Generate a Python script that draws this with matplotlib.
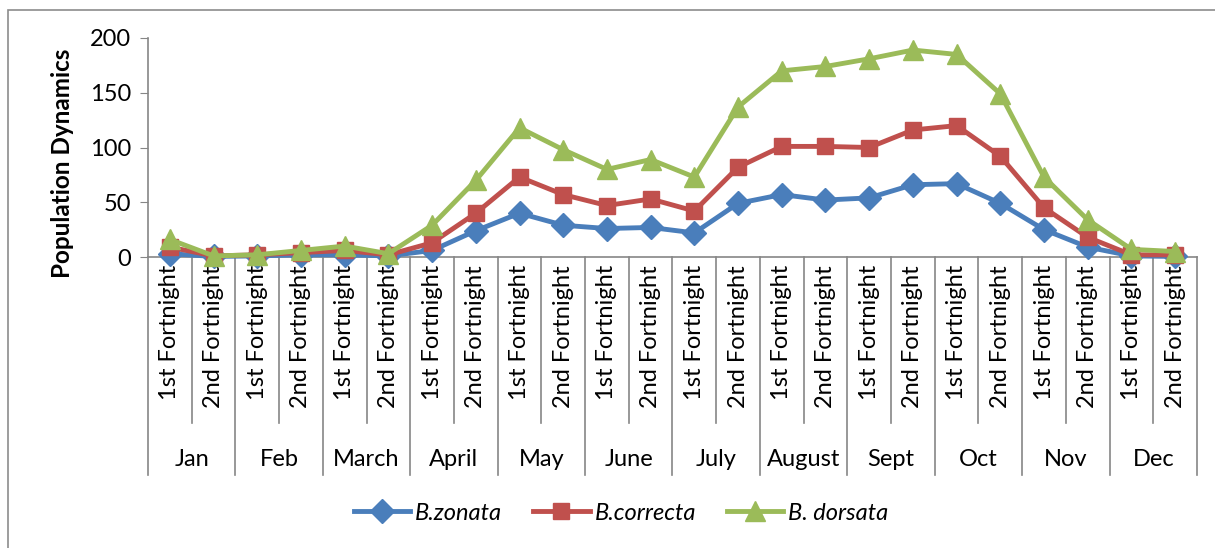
# Population dynamics of Bactrocera species by fortnight
import matplotlib
matplotlib.use('Agg')
import matplotlib.pyplot as plt
import matplotlib.transforms as mtransforms
from matplotlib.patches import Rectangle
from matplotlib.lines import Line2D

plt.rcParams['font.family'] = ['Lato', 'DejaVu Sans']

months = ['Jan', 'Feb', 'March', 'April', 'May', 'June', 'July',
          'August', 'Sept', 'Oct', 'Nov', 'Dec']
fortnights = ['1st Fortnight', '2nd Fortnight']

zonata = [3, 0.5, 1, 2, 2, 1, 6, 24, 40, 29, 26, 27,
          22, 49, 57, 52, 54, 66, 67, 49, 25, 9, 1, 0.5]
correcta = [9, 1, 2, 4, 6, 2, 13, 40, 73, 57, 47, 53,
            42, 82, 101, 101, 100, 116, 120, 92, 45, 18, 2, 2]
dorsata = [16, 1, 2, 6, 10, 3, 29, 70, 118, 98, 80, 89,
           73, 137, 170, 174, 181, 189, 185, 149, 73, 34, 7, 5]

W, H = 1215, 548
fig = plt.figure(figsize=(W / 100, H / 100), dpi=100)

# outer chart border
fig.patches.append(Rectangle((8 / W, -0.2), 2, 1 - 10 / H + 0.2,
                             transform=fig.transFigure, fill=False,
                             edgecolor='#8c8c8c', linewidth=1.2))

left, right, top, bottom = 148, 1197, 38, 257
ax = fig.add_axes([left / W, 1 - bottom / H, (right - left) / W, (bottom - top) / H])

x = list(range(len(zonata)))
ax.plot(x, zonata, color='#4A7EBB', linewidth=3.5, marker='D', markersize=12,
        label='B.zonata', clip_on=False, zorder=3)
ax.plot(x, correcta, color='#C0504D', linewidth=3.5, marker='s', markersize=12,
        label='B.correcta', clip_on=False, zorder=4)
ax.plot(x, dorsata, color='#9BBB59', linewidth=3.5, marker='^', markersize=14,
        label='B. dorsata', clip_on=False, zorder=5)

ax.set_xlim(-0.5, len(x) - 0.5)
ax.set_ylim(0, 200)
ax.set_yticks([0, 50, 100, 150, 200])
ax.tick_params(axis='y', labelsize=17, length=6, color='#868686', pad=6)
ax.set_xticks([])
for s in ['top', 'right']:
    ax.spines[s].set_visible(False)
for s in ['left', 'bottom']:
    ax.spines[s].set_color('#868686')
    ax.spines[s].set_linewidth(1.2)

fig.text(62 / W, 1 - 163 / H, 'Population Dynamics', rotation=90,
         ha='center', va='center', fontsize=17.5, fontweight='bold')

# category table under the axis
trans = mtransforms.blended_transform_factory(ax.transData, ax.transAxes)
ah = bottom - top
fort_bot = -(423 - bottom) / ah
month_bot = -(475 - bottom) / ah
for i in range(len(x)):
    ax.text(i, -(265 - bottom) / ah, fortnights[i % 2], transform=trans,
            rotation=90, ha='center', va='top', fontsize=17)
for b in range(len(x) + 1):
    y1 = month_bot if b % 2 == 0 else fort_bot
    ax.add_line(Line2D([b - 0.5, b - 0.5], [0, y1], transform=trans,
                       color='#868686', linewidth=1.2, clip_on=False))
for m, name in enumerate(months):
    ax.text(2 * m + 0.5, -(459 - bottom) / ah, name, transform=trans,
            ha='center', va='center', fontsize=17)

leg = fig.legend(loc='center', bbox_to_anchor=(621 / W, 1 - 513 / H), ncol=3,
                 frameon=False, handlelength=2.4, columnspacing=1.3,
                 handletextpad=0.2, prop={'size': 17, 'style': 'italic'})

fig.savefig('out.png', dpi=100)
